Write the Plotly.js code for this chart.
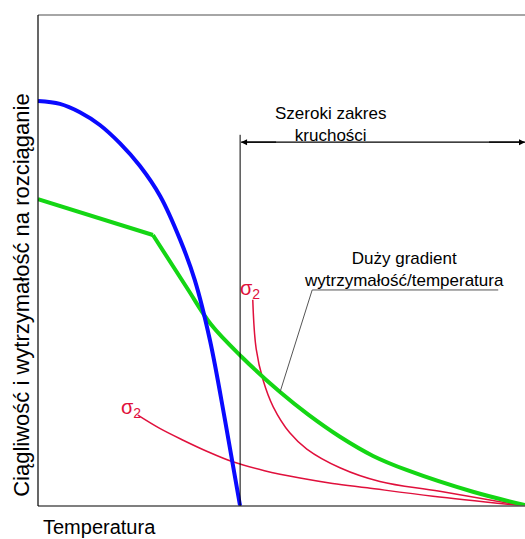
<!DOCTYPE html>
<html>
<head>
<meta charset="utf-8">
<script src="https://cdn.plot.ly/plotly-3.0.1.min.js"></script>
<style>html,body{margin:0;padding:0;background:#fff;}</style>
</head>
<body>
<div id="chart" style="width:525px;height:539px;"></div>
<script>
// Data (relative units, 0-100 on both axes)
const blueX = [0, 4.5, 8.6, 12.7, 16.8, 20.9, 25.1, 29.2, 32.2, 35.3, 38.4, 41.5];
const blueY = [82.5, 81.9, 80.2, 77.6, 73.9, 69.3, 63.1, 54.2, 46.0, 33.8, 17.5, 0];

const greenLinX = [0, 23.6];
const greenLinY = [62.5, 55.2];
const greenCurveX = [23.6, 30.6, 35.5, 41.9, 49.7, 55.5, 62.0, 68.8, 75.8, 89.3, 100];
const greenCurveY = [55.2, 44.4, 37.0, 30.3, 23.2, 18.6, 14.1, 10.2, 7.3, 2.9, 0.2];

const red1X = [20.5, 25.0, 29.8, 35.0, 40.0, 46.5, 53.8, 60.5, 67.6, 81.1, 100];
const red1Y = [18.5, 15.8, 13.4, 11.0, 9.0, 7.2, 5.7, 4.6, 3.7, 2.0, 0];

const red2X = [44.1, 44.8, 46.2, 48.3, 51.7, 55.2, 62.0, 70.2, 82.5, 100];
const red2Y = [42.0, 32.0, 25.7, 20.2, 14.9, 11.6, 7.8, 5.0, 3.0, 0];

const brittleX = 41.5;          // start of wide brittleness range
const brittleTop = 75.6;
const arrowY = 74.1;
const leaderX = [49.7, 56.3, 94.5];
const leaderY = [23.2, 44.0, 44.0];

const texts = {
  range: "Szeroki zakres<br>kruchości",
  gradient: "Duży gradient<br>wytrzymałość/temperatura",
  sigma: "σ<sub>2</sub>",
  xTitle: "Temperatura",
  yTitle: "Ciągliwość i wytrzymałość na rozciąganie"
};

const RED = '#e0103c';
const GREEN = '#14d614';
const BLUE = '#0a0aff';
const traces = [
  {x: red1X, y: red1Y, mode: 'lines', line: {color: RED, width: 1.5, shape: 'spline', smoothing: 1}, hoverinfo: 'skip'},
  {x: red2X, y: red2Y, mode: 'lines', line: {color: RED, width: 1.5, shape: 'spline', smoothing: 1.1}, hoverinfo: 'skip'},
  {x: greenLinX, y: greenLinY, mode: 'lines', line: {color: GREEN, width: 4}, hoverinfo: 'skip'},
  {x: greenCurveX, y: greenCurveY, mode: 'lines', line: {color: GREEN, width: 4, shape: 'spline', smoothing: 1}, hoverinfo: 'skip'},
  {x: blueX, y: blueY, mode: 'lines', line: {color: BLUE, width: 4, shape: 'spline', smoothing: 1}, hoverinfo: 'skip'}
];

const font = {family: 'Liberation Sans, Arial, sans-serif', color: '#000'};
const layout = {
  width: 525, height: 539,
  margin: {l: 38, r: 0, t: 15, b: 33},
  paper_bgcolor: '#fff', plot_bgcolor: '#fff',
  showlegend: false,
  xaxis: {range: [0, 100], showgrid: false, zeroline: false, showticklabels: false, ticks: '', showline: false, fixedrange: true},
  yaxis: {range: [0, 100], showgrid: false, zeroline: false, showticklabels: false, ticks: '', showline: false, fixedrange: true},
  shapes: [
    {type: 'line', xref: 'paper', yref: 'paper', x0: 0, x1: 1, y0: 1, y1: 1, line: {color: '#888', width: 1.5}},
    {type: 'line', xref: 'paper', yref: 'paper', x0: 0, x1: 1, y0: 0, y1: 0, line: {color: '#555', width: 1.5}},
    {type: 'line', xref: 'paper', yref: 'paper', x0: 0, x1: 0, y0: 0, y1: 1, line: {color: '#000', width: 1.2}},
    {type: 'line', xref: 'x', yref: 'y', x0: brittleX, x1: brittleX, y0: 0, y1: brittleTop, line: {color: '#000', width: 1}},
    {type: 'line', xref: 'x', yref: 'y', x0: brittleX + 0.2, x1: 100, y0: arrowY, y1: arrowY, line: {color: '#000', width: 1.2}},
    {type: 'path', xref: 'x', yref: 'y',
     path: 'M' + leaderX[0] + ',' + leaderY[0] + ' L' + leaderX[1] + ',' + leaderY[1] + ' L' + leaderX[2] + ',' + leaderY[2],
     line: {color: '#555', width: 1}}
  ],
  annotations: [
    {x: 100, y: arrowY, ax: 92, ay: arrowY, xref: 'x', yref: 'y', axref: 'x', ayref: 'y',
     text: ' ', showarrow: true, arrowhead: 2, arrowsize: 1, arrowwidth: 1.2, arrowcolor: '#000', standoff: 0},
    {x: brittleX + 0.2, y: arrowY, ax: brittleX + 8, ay: arrowY, xref: 'x', yref: 'y', axref: 'x', ayref: 'y',
     text: ' ', showarrow: true, arrowhead: 2, arrowsize: 1, arrowwidth: 1.2, arrowcolor: '#000', standoff: 0},
    {x: 60.0, y: 77.8, xref: 'x', yref: 'y', text: texts.range, showarrow: false,
     font: Object.assign({size: 17}, font), align: 'center'},
    {x: 75.2, y: 48.2, xref: 'x', yref: 'y', text: texts.gradient, showarrow: false,
     font: Object.assign({size: 17}, font), align: 'center'},
    {x: 43.5, y: 44.0, xref: 'x', yref: 'y', text: texts.sigma, showarrow: false,
     font: Object.assign({}, font, {size: 20, color: RED})},
    {x: 19.1, y: 19.9, xref: 'x', yref: 'y', text: texts.sigma, showarrow: false,
     font: Object.assign({}, font, {size: 20, color: RED})},
    {x: 0.006, y: -0.043, xref: 'paper', yref: 'paper', xanchor: 'left', yanchor: 'middle', text: texts.xTitle, showarrow: false,
     font: Object.assign({}, font, {size: 20})},
    {x: -0.033, y: 0.43, xref: 'paper', yref: 'paper', xanchor: 'center', yanchor: 'middle', textangle: -90, text: texts.yTitle, showarrow: false,
     font: Object.assign({}, font, {size: 22})}
  ]
};

Plotly.newPlot('chart', traces, layout, {staticPlot: true, displayModeBar: false});
</script>
</body>
</html>
